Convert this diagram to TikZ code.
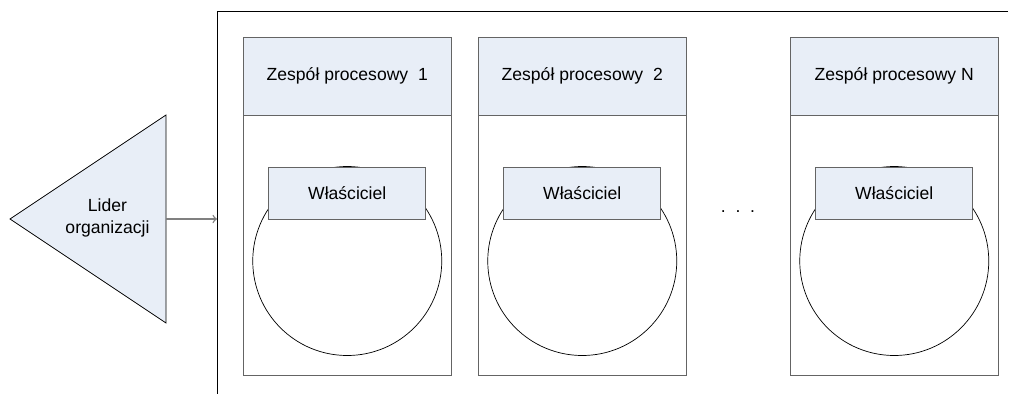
\documentclass[tikz,border=0pt]{standalone}
\usepackage{fontspec}
\setmainfont{Liberation Sans}

\definecolor{boxfill}{RGB}{232,238,247}
\definecolor{boxline}{RGB}{100,100,100}

\tikzset{
    label/.style={font=\fontsize{10}{13}\selectfont, align=center},
    ownerbox/.style={draw=boxline, fill=boxfill, minimum width=3.14cm, minimum height=1.04cm, inner sep=0pt, label}
}

\begin{document}
\begin{tikzpicture}[scale=1.0]
    \useasboundingbox (0,0) rectangle (20.36,7.88);

    % Leader triangle
    \draw[fill=boxfill] (0.2,3.5) -- (3.32,5.58) -- (3.32,1.42) -- cycle;
    \node[label] (lider) at (2.15,3.52) {Lider\\organizacji};

    % Organisation frame - only top and left edge
    \draw (20.16,7.66) -- (4.34,7.66) -- (4.34,0);
    \coordinate (base) at (3.32,3.5);
    \coordinate (frame) at (4.34,3.5);
    \draw[->, gray, thick] (base) -- (frame);

    % Process teams
    \foreach \x/\n/\t in {4.86/1/{procesowy\ \ 1}, 9.56/2/{procesowy\ \ 2}, 15.8/3/{procesowy N}} {
        \draw[boxline] (\x,0.38) rectangle (\x+4.17,7.14);
        \draw[boxline, fill=boxfill] (\x,5.58) rectangle (\x+4.17,7.14);
        \node[label] (zespol\n) at (\x+2.085,6.36) {Zespół \t};
        \draw (\x+2.085,2.66) circle (1.89);
        \node[ownerbox] (owner\n) at (\x+2.085,4.02) {Właściciel};
    }

    % Gap between team 2 and team N
    \node[label] (dots) at (14.76,3.64) {.\ \ .\ \ .};
\end{tikzpicture}
\end{document}
